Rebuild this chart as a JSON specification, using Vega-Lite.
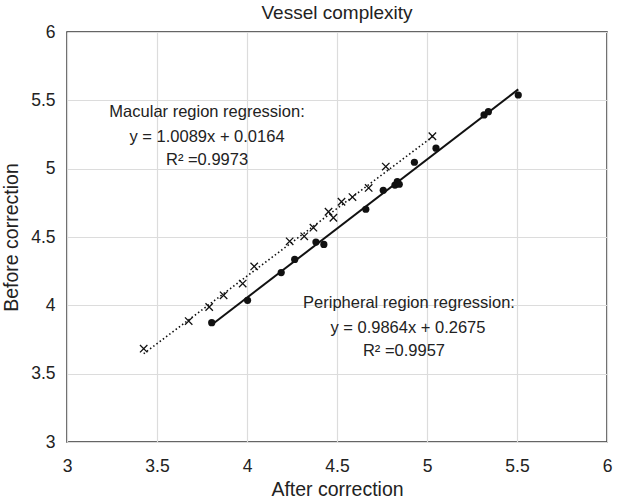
{
  "$schema": "https://vega.github.io/schema/vega-lite/v6.json",
  "width": 540,
  "height": 410,
  "autosize": {"type": "none"},
  "padding": {"left": 67, "top": 32, "right": 11, "bottom": 59},
  "background": "white",
  "title": {"text": "Vessel complexity", "fontSize": 19, "font": "Liberation Sans", "fontWeight": "normal", "color": "#222", "offset": 0, "anchor": "middle", "frame": "group"},
  "config": {
    "view": {"stroke": "#333", "strokeWidth": 1.5},
    "font": "Liberation Sans",
    "text": {"font": "Liberation Sans", "fontSize": 16.5, "color": "#222", "align": "center", "baseline": "middle"},
    "axis": {"grid": true, "gridColor": "#dcdcdc", "gridWidth": 1.2, "domain": false, "ticks": false, "labelFontSize": 17.5, "labelColor": "#222", "titleFontSize": 19.5, "titleFontWeight": "normal", "titleColor": "#222", "labelFlush": false, "labelFont": "Liberation Sans", "titleFont": "Liberation Sans", "format": "~g"}
  },
  "datasets": {
    "points": [
      {"series": "Macular", "after": 3.426, "before": 3.683},
      {"series": "Macular", "after": 3.676, "before": 3.885},
      {"series": "Macular", "after": 3.79, "before": 3.988},
      {"series": "Macular", "after": 3.87, "before": 4.073},
      {"series": "Macular", "after": 3.976, "before": 4.159},
      {"series": "Macular", "after": 4.04, "before": 4.285},
      {"series": "Macular", "after": 4.237, "before": 4.468},
      {"series": "Macular", "after": 4.318, "before": 4.505},
      {"series": "Macular", "after": 4.369, "before": 4.568},
      {"series": "Macular", "after": 4.453, "before": 4.685},
      {"series": "Macular", "after": 4.48, "before": 4.641},
      {"series": "Macular", "after": 4.525, "before": 4.758},
      {"series": "Macular", "after": 4.586, "before": 4.792},
      {"series": "Macular", "after": 4.676, "before": 4.859},
      {"series": "Macular", "after": 4.771, "before": 5.015},
      {"series": "Macular", "after": 5.03, "before": 5.237},
      {"series": "Peripheral", "after": 3.804, "before": 3.873},
      {"series": "Peripheral", "after": 4.003, "before": 4.037},
      {"series": "Peripheral", "after": 4.19, "before": 4.24},
      {"series": "Peripheral", "after": 4.265, "before": 4.336},
      {"series": "Peripheral", "after": 4.383, "before": 4.463},
      {"series": "Peripheral", "after": 4.427, "before": 4.446},
      {"series": "Peripheral", "after": 4.66, "before": 4.703},
      {"series": "Peripheral", "after": 4.757, "before": 4.842},
      {"series": "Peripheral", "after": 4.822, "before": 4.88},
      {"series": "Peripheral", "after": 4.835, "before": 4.905},
      {"series": "Peripheral", "after": 4.846, "before": 4.886},
      {"series": "Peripheral", "after": 4.93, "before": 5.047},
      {"series": "Peripheral", "after": 5.05, "before": 5.15},
      {"series": "Peripheral", "after": 5.317, "before": 5.393},
      {"series": "Peripheral", "after": 5.341, "before": 5.417},
      {"series": "Peripheral", "after": 5.507, "before": 5.539}
    ]
  },
  "layer": [
    {
      "data": {"name": "points"},
      "transform": [{"filter": "datum.series === 'Macular'"}, {"regression": "before", "on": "after"}],
      "mark": {"type": "line", "color": "#111", "strokeWidth": 1.6, "strokeDash": [1.5, 2.5]},
      "encoding": {
        "x": {"field": "after", "type": "quantitative", "scale": {"domain": [3, 6], "nice": false, "zero": false},
              "axis": {"values": [3, 3.5, 4, 4.5, 5, 5.5, 6], "title": "After correction", "labelPadding": 15, "titlePadding": 6}},
        "y": {"field": "before", "type": "quantitative", "scale": {"domain": [3, 6], "nice": false, "zero": false},
              "axis": {"values": [3, 3.5, 4, 4.5, 5, 5.5, 6], "title": "Before correction", "labelPadding": 12, "titlePadding": 9}}
      }
    },
    {
      "data": {"name": "points"},
      "transform": [{"filter": "datum.series === 'Peripheral'"}, {"regression": "before", "on": "after"}],
      "mark": {"type": "line", "color": "#111", "strokeWidth": 2},
      "encoding": {
        "x": {"field": "after", "type": "quantitative"},
        "y": {"field": "before", "type": "quantitative"}
      }
    },
    {
      "data": {"name": "points"},
      "transform": [{"filter": "datum.series === 'Macular'"}],
      "mark": {"type": "point", "shape": "M-1,-1L1,1M-1,1L1,-1", "filled": false, "stroke": "#111", "strokeWidth": 1.3, "size": 55, "opacity": 1},
      "encoding": {
        "x": {"field": "after", "type": "quantitative"},
        "y": {"field": "before", "type": "quantitative"}
      }
    },
    {
      "data": {"name": "points"},
      "transform": [{"filter": "datum.series === 'Peripheral'"}],
      "mark": {"type": "circle", "color": "#111", "size": 52, "opacity": 1},
      "encoding": {
        "x": {"field": "after", "type": "quantitative"},
        "y": {"field": "before", "type": "quantitative"}
      }
    },
    {
      "data": {"values": [{}]},
      "mark": {"type": "text"},
      "encoding": {"x": {"datum": 3.778, "type": "quantitative"}, "y": {"datum": 5.415, "type": "quantitative"}, "text": {"value": "Macular region regression:"}}
    },
    {
      "data": {"values": [{}]},
      "mark": {"type": "text"},
      "encoding": {"x": {"datum": 3.778, "type": "quantitative"}, "y": {"datum": 5.23, "type": "quantitative"}, "text": {"value": "y = 1.0089x + 0.0164"}}
    },
    {
      "data": {"values": [{}]},
      "mark": {"type": "text"},
      "encoding": {"x": {"datum": 3.778, "type": "quantitative"}, "y": {"datum": 5.062, "type": "quantitative"}, "text": {"value": "R\u00b2 =0.9973"}}
    },
    {
      "data": {"values": [{}]},
      "mark": {"type": "text"},
      "encoding": {"x": {"datum": 4.9, "type": "quantitative"}, "y": {"datum": 4.018, "type": "quantitative"}, "text": {"value": "Peripheral region regression:"}}
    },
    {
      "data": {"values": [{}]},
      "mark": {"type": "text"},
      "encoding": {"x": {"datum": 4.894, "type": "quantitative"}, "y": {"datum": 3.833, "type": "quantitative"}, "text": {"value": "y = 0.9864x + 0.2675"}}
    },
    {
      "data": {"values": [{}]},
      "mark": {"type": "text"},
      "encoding": {"x": {"datum": 4.872, "type": "quantitative"}, "y": {"datum": 3.668, "type": "quantitative"}, "text": {"value": "R\u00b2 =0.9957"}}
    }
  ]
}
